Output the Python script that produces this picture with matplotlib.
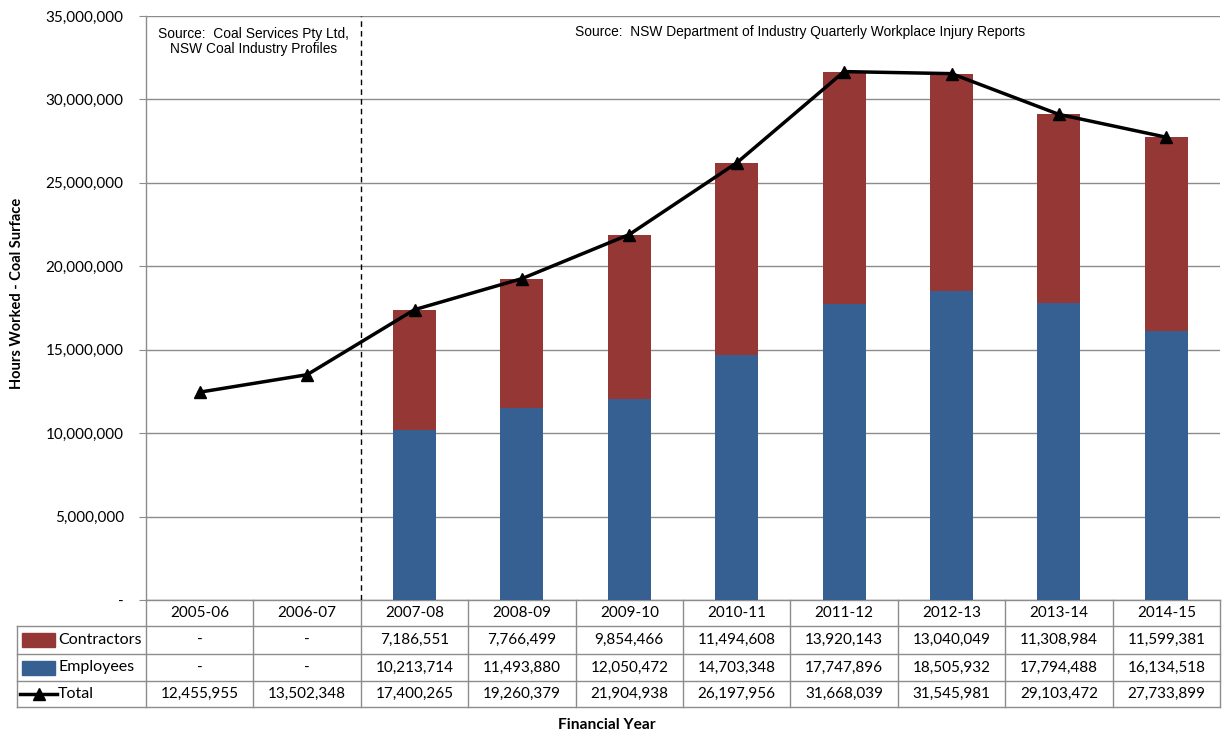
import numpy as np
import matplotlib
matplotlib.use("Agg")
import matplotlib.pyplot as plt
import matplotlib.ticker as mticker
import matplotlib.transforms as mtransforms
from matplotlib.patches import Rectangle
from matplotlib.lines import Line2D

years = ["2005-06", "2006-07", "2007-08", "2008-09", "2009-10",
         "2010-11", "2011-12", "2012-13", "2013-14", "2014-15"]
contractors = [None, None, 7186551, 7766499, 9854466, 11494608,
               13920143, 13040049, 11308984, 11599381]
employees = [None, None, 10213714, 11493880, 12050472, 14703348,
             17747896, 18505932, 17794488, 16134518]
total = [12455955, 13502348, 17400265, 19260379, 21904938, 26197956,
         31668039, 31545981, 29103472, 27733899]

RED = "#953735"
BLUE = "#376092"
GRID = "#8c8c8c"
TFONT = "Lato"
FS = 11

fig = plt.figure(figsize=(12.22, 7.36), dpi=100)
ax = fig.add_axes([146 / 1222, 1 - 600 / 736, 1074 / 1222, 584 / 736])

x = np.arange(len(years))
emp = np.array([np.nan if v is None else v for v in employees], dtype=float)
con = np.array([np.nan if v is None else v for v in contractors], dtype=float)

ax.bar(x, emp, width=0.4, color=BLUE, zorder=3)
ax.bar(x, con, width=0.4, bottom=emp, color=RED, zorder=3)
ax.plot(x, total, color="black", linewidth=2.5, marker="^", markersize=8,
        zorder=5)

ax.set_xlim(-0.5, len(years) - 0.5)
ax.set_ylim(0, 35000000)
ax.yaxis.set_major_locator(mticker.MultipleLocator(5000000))
ax.yaxis.set_major_formatter(mticker.FuncFormatter(
    lambda v, p: "-" if v == 0 else f"{int(v):,}"))
ax.set_xticks([])
ax.tick_params(axis="y", length=5, color=GRID, labelsize=FS, pad=11)
for lab in ax.get_yticklabels():
    lab.set_fontfamily(TFONT)
ax.grid(axis="y", color=GRID, linewidth=1, zorder=0)
for s in ["top", "right", "bottom"]:
    ax.spines[s].set_visible(False)
ax.spines["left"].set_color(GRID)
ax.spines["left"].set_linewidth(1)

tr = mtransforms.blended_transform_factory(ax.transData, ax.transAxes)

# source divider
ax.axvline(1.5, color="black", linestyle=(0, (4, 3)), linewidth=1, zorder=4)
ax.text(0.5, 0.982, "Source:  Coal Services Pty Ltd,\nNSW Coal Industry Profiles",
        transform=tr, ha="center", va="top", fontsize=9.9,
        family="Liberation Sans", linespacing=1.1)
ax.text(5.59, 0.984, "Source:  NSW Department of Industry Quarterly Workplace Injury Reports",
        transform=tr, ha="center", va="top", fontsize=9.9, family="Liberation Sans")

# data table below the axes
row_edges = [0, -26 / 584, -54 / 584, -81 / 584, -107 / 584]
left_frac = (17 - 146) / 1074
n = len(years)
lkw = dict(color=GRID, linewidth=1, clip_on=False, zorder=1)

ax.add_line(Line2D([-0.5, n - 0.5], [row_edges[0]] * 2, transform=tr, **lkw))
for yb in row_edges[1:]:
    ax.add_line(Line2D([left_frac, 1], [yb, yb], transform=ax.transAxes, **lkw))
for xb in np.arange(n + 1) - 0.5:
    ax.add_line(Line2D([xb, xb], [row_edges[0], row_edges[-1]], transform=tr, **lkw))
ax.add_line(Line2D([left_frac, left_frac], [row_edges[1], row_edges[-1]],
                   transform=ax.transAxes, **lkw))

def fmt(v):
    return "-" if v is None else f"{v:,}"

rows = [years,
        [fmt(v) for v in contractors],
        [fmt(v) for v in employees],
        [fmt(v) for v in total]]
for r, vals in enumerate(rows):
    yc = (row_edges[r] + row_edges[r + 1]) / 2
    for i, s in enumerate(vals):
        ax.text(i, yc, s, transform=tr, ha="center", va="center",
                fontsize=FS, family=TFONT, clip_on=False)

# legend keys in label column
labels = ["Contractors", "Employees", "Total"]
sw_x = (22 - 146) / 1074
sw_w = 33 / 1074
txt_x = (58 - 146) / 1074
for r, lab in enumerate(labels, start=1):
    yc = (row_edges[r] + row_edges[r + 1]) / 2
    if lab == "Total":
        ax.add_line(Line2D([(20 - 146) / 1074, (57 - 146) / 1074], [yc, yc],
                           transform=ax.transAxes, color="black", linewidth=2.5,
                           clip_on=False))
        ax.add_line(Line2D([(38.5 - 146) / 1074], [yc], transform=ax.transAxes,
                           marker="^", markersize=8, color="black", clip_on=False))
    else:
        ax.add_patch(Rectangle((sw_x, yc - 7 / 584), sw_w, 14 / 584,
                               transform=ax.transAxes,
                               color=RED if lab == "Contractors" else BLUE,
                               clip_on=False))
    ax.text(txt_x, yc, lab, transform=ax.transAxes, ha="left", va="center",
            fontsize=11.5, family=TFONT, clip_on=False)

fig.text(17 / 1222, 1 - 293 / 736, "Hours Worked - Coal Surface", rotation=90,
         ha="center", va="center", fontsize=10.5, fontweight="bold", family=TFONT)
fig.text(607 / 1222, 1 - 725 / 736, "Financial Year", ha="center", va="center",
         fontsize=11.2, fontweight="bold", family=TFONT)

fig.savefig("out.png", dpi=100, facecolor="white")
